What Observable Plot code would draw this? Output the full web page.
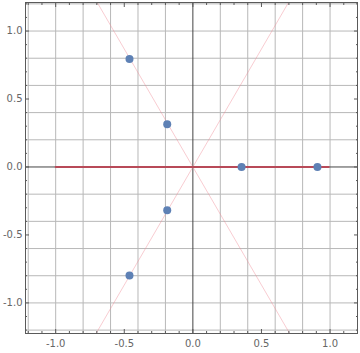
<!DOCTYPE html>
<html>
<head>
<meta charset="utf-8">
<script src="https://cdn.jsdelivr.net/npm/d3@7"></script>
<script src="https://cdn.jsdelivr.net/npm/@observablehq/plot@0.6"></script>
<style>
  html, body { margin: 0; padding: 0; background: #fff; }
  #chart svg { display: block; }
</style>
</head>
<body>
<div id="chart"></div>
<script>
// Points
const pointX = [-0.462, -0.187, 0.355, 0.908, -0.187, -0.462];
const pointY = [0.794, 0.315, 0.0, 0.0, -0.319, -0.798];

// Red segment on the real axis
const segX = [-1.0, 0.99];
const segY = [0.0, 0.0];

// Pink lines through the origin (endpoints)
const line1X = [-0.72, 0.72];
const line1Y = [1.25, -1.25];
const line2X = [-0.72, 0.72];
const line2Y = [-1.25, 1.25];

// Ticks and grid
const majorTicks = [-1.0, -0.5, 0.0, 0.5, 1.0];
const minorTicks = [-1.2, -1.1, -0.9, -0.8, -0.7, -0.6, -0.4, -0.3, -0.2, -0.1, 0.1, 0.2, 0.3, 0.4, 0.6, 0.7, 0.8, 0.9, 1.1, 1.2];
const gridVals = [-1.2, -1.0, -0.8, -0.6, -0.4, -0.2, 0.2, 0.4, 0.6, 0.8, 1.0, 1.2];

const points = pointX.map((x, i) => ({x, y: pointY[i]}));
const seg = segX.map((x, i) => ({x, y: segY[i]}));
const l1 = line1X.map((x, i) => ({x, y: line1Y[i]}));
const l2 = line2X.map((x, i) => ({x, y: line2Y[i]}));

const fmt = d => d.toFixed(1);
const frameColor = "#5a5a5a";
const labelColor = "#666";

const chart = Plot.plot({
  width: 360,
  height: 353,
  marginLeft: 25,
  marginRight: 3,
  marginTop: 2,
  marginBottom: 20,
  style: {fontFamily: "DejaVu Sans", fontSize: "10px", background: "#fff"},
  x: {domain: [-1.22, 1.2]},
  y: {domain: [-1.225, 1.21]},
  marks: [
    Plot.gridX(gridVals, {stroke: "#b8b8b8", strokeOpacity: 1}),
    Plot.gridY(gridVals, {stroke: "#b8b8b8", strokeOpacity: 1}),
    Plot.ruleX([0], {stroke: "#444"}),
    Plot.ruleY([0], {stroke: "#444"}),
    Plot.line(l1, {x: "x", y: "y", stroke: "#f08a96", strokeOpacity: 0.55, strokeWidth: 0.8, clip: true}),
    Plot.line(l2, {x: "x", y: "y", stroke: "#f08a96", strokeOpacity: 0.55, strokeWidth: 0.8, clip: true}),
    Plot.line(seg, {x: "x", y: "y", stroke: "#b84a58", strokeWidth: 2}),
    Plot.dot(points, {x: "x", y: "y", r: 4, fill: "#5e81b5", stroke: "none"}),
    Plot.frame({stroke: frameColor}),
    // labels
    Plot.axisX(majorTicks, {anchor: "bottom", tickSize: 0, tickPadding: 6, tickFormat: fmt, fill: labelColor, label: null}),
    Plot.axisY(majorTicks, {anchor: "left", tickSize: 0, tickPadding: 3, tickFormat: fmt, fill: labelColor, label: null}),
    // inward ticks
    Plot.axisX(majorTicks, {anchor: "bottom", tickSize: -4, text: null, stroke: frameColor, label: null}),
    Plot.axisX(minorTicks, {anchor: "bottom", tickSize: -2, text: null, stroke: frameColor, label: null}),
    Plot.axisX(majorTicks, {anchor: "top", tickSize: -4, text: null, stroke: frameColor, label: null}),
    Plot.axisX(minorTicks, {anchor: "top", tickSize: -2, text: null, stroke: frameColor, label: null}),
    Plot.axisY(majorTicks, {anchor: "left", tickSize: -4, text: null, stroke: frameColor, label: null}),
    Plot.axisY(minorTicks, {anchor: "left", tickSize: -2, text: null, stroke: frameColor, label: null}),
    Plot.axisY(majorTicks, {anchor: "right", tickSize: -4, text: null, stroke: frameColor, label: null}),
    Plot.axisY(minorTicks, {anchor: "right", tickSize: -2, text: null, stroke: frameColor, label: null})
  ]
});
document.getElementById("chart").append(chart);
</script>
</body>
</html>
